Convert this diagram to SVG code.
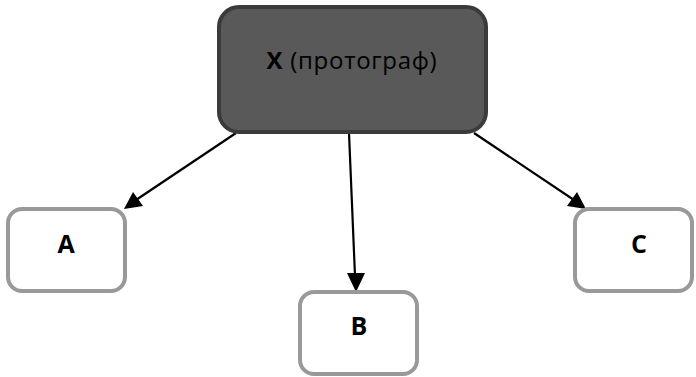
<svg xmlns="http://www.w3.org/2000/svg" width="696" height="377" viewBox="0 0 696 377">
  <style>
    .root rect { fill: #595959; stroke: #3b3b3b; stroke-width: 4; }
    .leaf rect { fill: #ffffff; stroke: #999999; stroke-width: 4; }
    text { font-family: "Open Sans", "Noto Sans", sans-serif; fill: #000; text-anchor: middle; }
    .lbl { font-size: 25px; font-weight: bold; }
    .edge { stroke: #000; stroke-width: 2.2; fill: none; }
  </style>
  <rect width="696" height="377" fill="#fff"/>

  <g id="connectors">
    <line class="edge" x1="236" y1="133" x2="130" y2="204"/>
    <polygon points="124,209 133,192 143,206" fill="#000"/>
    <line class="edge" x1="349" y1="133" x2="355" y2="276"/>
    <polygon points="356,292 347,273 365,273" fill="#000"/>
    <line class="edge" x1="474" y1="133" x2="580" y2="204"/>
    <polygon points="586,209 567,206 577,192" fill="#000"/>
  </g>

  <g id="node-x" class="root">
    <rect x="219" y="7" width="267" height="125" rx="20"/>
    <text x="352" y="69" font-size="24" letter-spacing="0.7"><tspan font-weight="bold">X</tspan> (протограф)</text>
  </g>
  <g id="node-a" class="leaf">
    <rect x="8" y="209" width="117" height="82" rx="14"/>
    <text class="lbl" x="66" y="253">A</text>
  </g>
  <g id="node-b" class="leaf">
    <rect x="300" y="292" width="117" height="82" rx="14"/>
    <text class="lbl" x="359" y="335">B</text>
  </g>
  <g id="node-c" class="leaf">
    <rect x="575" y="209" width="117" height="82" rx="14"/>
    <text class="lbl" x="639" y="253">C</text>
  </g>
</svg>
